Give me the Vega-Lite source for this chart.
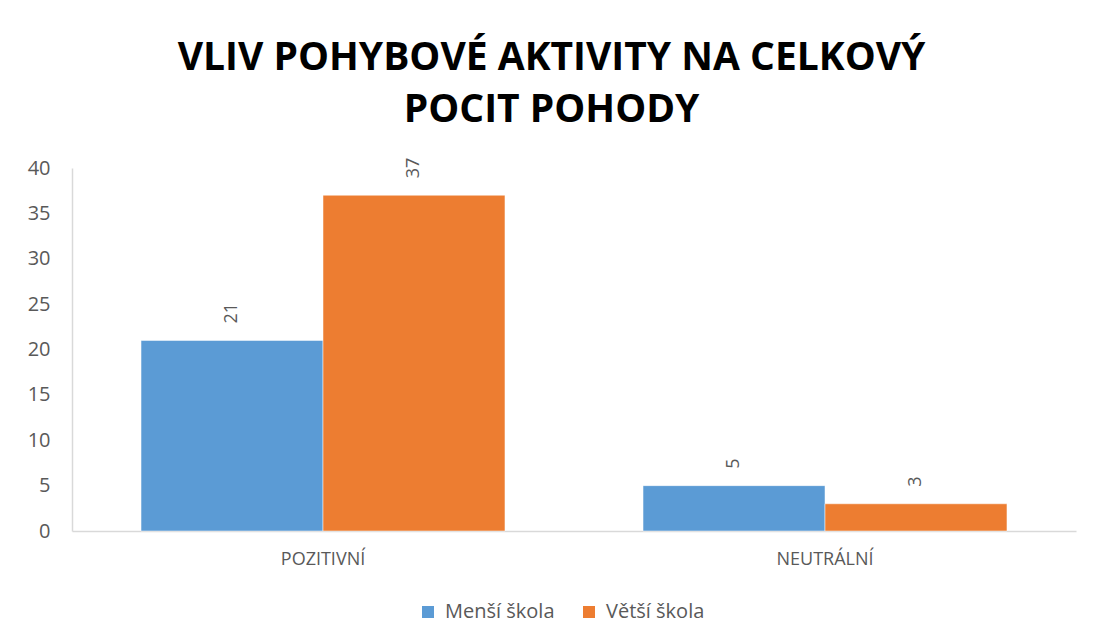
{
  "$schema": "https://vega.github.io/schema/vega-lite/v6.json",
  "autosize": {"type": "none"},
  "width": 1004,
  "height": 363,
  "padding": {"left": 72, "top": 168, "right": 17, "bottom": 113},
  "background": "white",
  "title": {
    "text": ["VLIV POHYBOVÉ AKTIVITY NA CELKOVÝ", "POCIT POHODY"],
    "font": "Open Sans",
    "fontSize": 39,
    "fontWeight": "bold",
    "color": "#000000",
    "anchor": "middle",
    "frame": "bounds",
    "lineHeight": 52,
    "offset": 28
  },
  "data": {
    "values": [
      {"kategorie": "POZITIVNÍ", "skola": "Menší škola", "pocet": 21},
      {"kategorie": "POZITIVNÍ", "skola": "Větší škola", "pocet": 37},
      {"kategorie": "NEUTRÁLNÍ", "skola": "Menší škola", "pocet": 5},
      {"kategorie": "NEUTRÁLNÍ", "skola": "Větší škola", "pocet": 3}
    ]
  },
  "encoding": {
    "x": {
      "field": "kategorie",
      "type": "nominal",
      "sort": ["POZITIVNÍ", "NEUTRÁLNÍ"],
      "scale": {"paddingInner": 0.275, "paddingOuter": 0.1375},
      "axis": {
        "title": null,
        "labelAngle": 0,
        "labelFont": "Open Sans",
        "labelFontSize": 18,
        "labelColor": "#595959",
        "labelPadding": 19,
        "ticks": false,
        "domainColor": "#d9d9d9",
        "domainWidth": 1.5
      }
    },
    "xOffset": {
      "field": "skola",
      "type": "nominal",
      "sort": ["Menší škola", "Větší škola"],
      "scale": {"paddingInner": 0, "paddingOuter": 0}
    },
    "y": {
      "field": "pocet",
      "type": "quantitative",
      "scale": {"domain": [0, 40], "nice": false},
      "axis": {
        "title": null,
        "values": [0, 5, 10, 15, 20, 25, 30, 35, 40],
        "grid": false,
        "ticks": false,
        "labelFont": "Open Sans",
        "labelFontSize": 20,
        "labelColor": "#595959",
        "labelPadding": 22,
        "domainColor": "#d9d9d9",
        "domainWidth": 1.5
      }
    }
  },
  "layer": [
    {
      "mark": {"type": "bar", "stroke": "white", "strokeWidth": 0.5},
      "encoding": {
        "color": {
          "field": "skola",
          "type": "nominal",
          "scale": {"domain": ["Menší škola", "Větší škola"], "range": ["#5B9BD5", "#ED7D31"]},
          "legend": {
            "title": null,
            "orient": "none",
            "legendX": 346,
            "legendY": 434,
            "direction": "horizontal",
            "symbolType": "square",
            "symbolSize": 144,
            "symbolStrokeWidth": 0,
            "labelFont": "Open Sans",
            "labelFontSize": 20,
            "labelColor": "#595959",
            "columnPadding": 24,
            "labelOffset": 7
          }
        }
      }
    },
    {
      "mark": {
        "type": "text",
        "angle": 270,
        "align": "left",
        "baseline": "middle",
        "dx": 17,
        "font": "Open Sans",
        "fontSize": 18,
        "color": "#595959"
      },
      "encoding": {
        "text": {"field": "pocet", "type": "quantitative"}
      }
    }
  ],
  "config": {
    "view": {"stroke": null}
  }
}
